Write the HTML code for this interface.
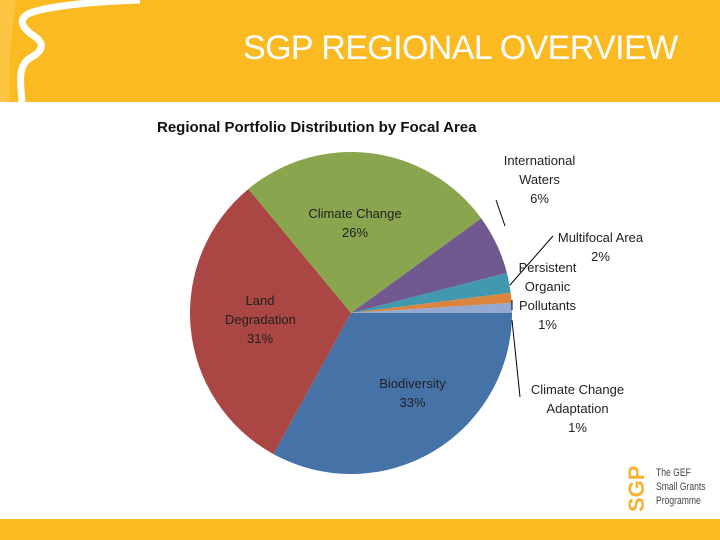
<!DOCTYPE html>
<html><head><meta charset="utf-8"><style>
body{margin:0;width:720px;height:540px;overflow:hidden;background:#fff;font-family:"Liberation Sans",sans-serif;position:relative}
.hdr{position:absolute;left:0;top:0;width:720px;height:102px;background:#FBBA22}
.ttl{position:absolute;left:243px;top:29px;font-size:34px;color:#fff;letter-spacing:-0.6px;white-space:nowrap}
.sub{position:absolute;left:157px;top:119px;font-size:15px;font-weight:bold;color:#111}
.lbl{position:absolute;font-size:13px;color:#222;text-align:center;line-height:19px}
.foot{position:absolute;left:0;top:519px;width:720px;height:21px;background:#FBBA22}
</style></head><body>
<div class="hdr">
<svg width="140" height="102" style="position:absolute;left:0;top:0">
<path d="M140 0 C80 2,40 8,28 14 C18 20,22 28,34 36 C46 44,42 52,30 58 C18 66,20 80,22 102" fill="none" stroke="#fff" stroke-width="7"/>
<path d="M0 0 L16 0 C12 30,8 60,10 102 L0 102 Z" fill="#FCC440"/>
</svg>
<div class="ttl">SGP REGIONAL OVERVIEW</div>
</div>
<div class="sub">Regional Portfolio Distribution by Focal Area</div>
<svg id="pie" width="720" height="540" style="position:absolute;left:0;top:0"></svg>
<div class="lbl" style="left:300px;top:204px;width:110px">Climate Change<br>26%</div>
<div class="lbl" style="left:225px;top:291px;width:70px">Land<br>Degradation<br>31%</div>
<div class="lbl" style="left:360px;top:374px;width:105px">Biodiversity<br>33%</div>
<div class="lbl" style="left:487px;top:151px;width:105px">International<br>Waters<br>6%</div>
<div class="lbl" style="left:548px;top:228px;width:105px">Multifocal Area<br>2%</div>
<div class="lbl" style="left:495px;top:258px;width:105px">Persistent<br>Organic<br>Pollutants<br>1%</div>
<div class="lbl" style="left:520px;top:380px;width:115px">Climate Change<br>Adaptation<br>1%</div>
<div style="position:absolute;left:624px;top:466px;width:96px;height:52px">
<div style="position:absolute;left:0;top:46px;font-size:22px;font-weight:bold;color:#F5B335;transform:rotate(-90deg);transform-origin:left top">SGP</div>
<div style="position:absolute;left:32px;top:0;font-size:11px;line-height:14px;color:#444;white-space:nowrap;transform:scaleX(0.78);transform-origin:left top">The GEF<br>Small Grants<br>Programme</div>
</div>
<div class="foot"></div>
<script>
const categories=["Biodiversity","Land Degradation","Climate Change","International Waters","Multifocal Area","Persistent Organic Pollutants","Climate Change Adaptation"];
const values=[33,31,26,6,2,1,1];
const colors=["#4572A7","#AA4643","#89A54E","#71588F","#4198AF","#DB843D","#93A9CF"];
const svg=document.getElementById('pie');
const cx=351,cy=313,r=161;
const total=values.reduce((a,b)=>a+b,0);
let a0=0;
function pt(a,rr){return [cx+rr*Math.cos(a),cy+rr*Math.sin(a)];}
values.forEach((v,i)=>{
 const a1=a0+v/total*2*Math.PI;
 const p0=pt(a0,r),p1=pt(a1,r);
 const large=(a1-a0)>Math.PI?1:0;
 const p=document.createElementNS('http://www.w3.org/2000/svg','path');
 p.setAttribute('d',`M${cx} ${cy} L${p0[0]} ${p0[1]} A${r} ${r} 0 ${large} 1 ${p1[0]} ${p1[1]} Z`);
 p.setAttribute('fill',colors[i]);
 
 
 svg.appendChild(p);
 a0=a1;
});
const leaders=[[496,200,505,226],[553,236,510,285],[512,300,512,310],[512,320,520,397]];
leaders.forEach(l=>{
 const ln=document.createElementNS('http://www.w3.org/2000/svg','line');
 ln.setAttribute('x1',l[0]);ln.setAttribute('y1',l[1]);ln.setAttribute('x2',l[2]);ln.setAttribute('y2',l[3]);
 ln.setAttribute('stroke','#000');ln.setAttribute('stroke-width','1');
 
 
 svg.appendChild(ln);
});
</script>
</body></html>
